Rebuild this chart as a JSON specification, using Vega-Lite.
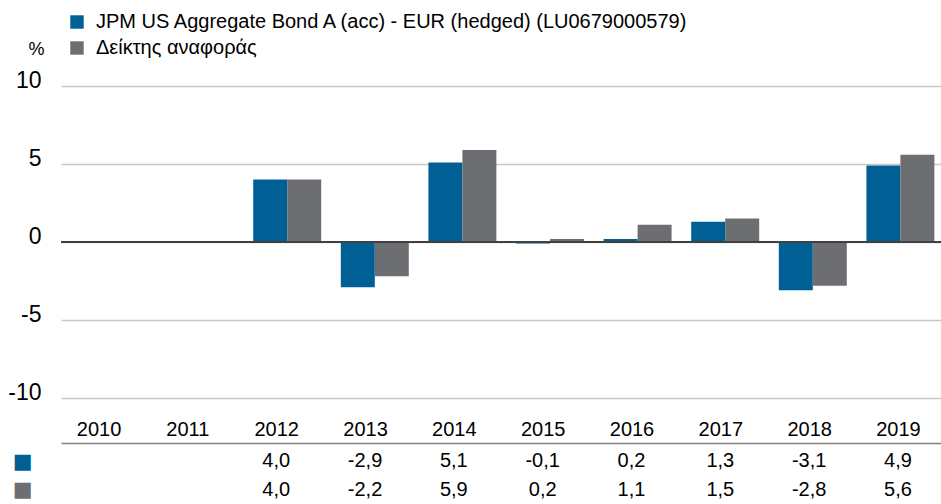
{
  "$schema": "https://vega.github.io/schema/vega-lite/v6.json",
  "padding": {"left": 7, "top": 12, "right": 0, "bottom": 0},
  "spacing": 45,
  "bounds": "flush",
  "config": {
    "font": "Liberation Sans",
    "view": {"stroke": null},
    "locale": {"number": {"decimal": ",", "thousands": ".", "grouping": [3], "currency": ["", " €"], "minus": "-"}}
  },
  "datasets": {
    "returns": [
      {"year": "2012", "series": "JPM US Aggregate Bond A (acc) - EUR (hedged) (LU0679000579)", "value": 4.0},
      {"year": "2013", "series": "JPM US Aggregate Bond A (acc) - EUR (hedged) (LU0679000579)", "value": -2.9},
      {"year": "2014", "series": "JPM US Aggregate Bond A (acc) - EUR (hedged) (LU0679000579)", "value": 5.1},
      {"year": "2015", "series": "JPM US Aggregate Bond A (acc) - EUR (hedged) (LU0679000579)", "value": -0.1},
      {"year": "2016", "series": "JPM US Aggregate Bond A (acc) - EUR (hedged) (LU0679000579)", "value": 0.2},
      {"year": "2017", "series": "JPM US Aggregate Bond A (acc) - EUR (hedged) (LU0679000579)", "value": 1.3},
      {"year": "2018", "series": "JPM US Aggregate Bond A (acc) - EUR (hedged) (LU0679000579)", "value": -3.1},
      {"year": "2019", "series": "JPM US Aggregate Bond A (acc) - EUR (hedged) (LU0679000579)", "value": 4.9},
      {"year": "2012", "series": "Δείκτης αναφοράς", "value": 4.0},
      {"year": "2013", "series": "Δείκτης αναφοράς", "value": -2.2},
      {"year": "2014", "series": "Δείκτης αναφοράς", "value": 5.9},
      {"year": "2015", "series": "Δείκτης αναφοράς", "value": 0.2},
      {"year": "2016", "series": "Δείκτης αναφοράς", "value": 1.1},
      {"year": "2017", "series": "Δείκτης αναφοράς", "value": 1.5},
      {"year": "2018", "series": "Δείκτης αναφοράς", "value": -2.8},
      {"year": "2019", "series": "Δείκτης αναφοράς", "value": 5.6}
    ]
  },
  "vconcat": [
    {
      "width": 880,
      "height": 312,
      "data": {"name": "returns"},
      "layer": [
        {
          "mark": {"type": "bar"},
          "encoding": {
            "x": {
              "field": "year", "type": "nominal",
              "scale": {"domain": ["2010","2011","2012","2013","2014","2015","2016","2017","2018","2019"], "paddingInner": 0.224, "paddingOuter": 0.135, "align": 0.72},
              "axis": null
            },
            "xOffset": {
              "field": "series", "type": "nominal",
              "scale": {"domain": ["JPM US Aggregate Bond A (acc) - EUR (hedged) (LU0679000579)", "Δείκτης αναφοράς"], "paddingInner": 0, "paddingOuter": 0}
            },
            "y": {
              "field": "value", "type": "quantitative",
              "scale": {"domain": [-10, 10], "nice": false},
              "axis": {
                "values": [-10, -5, 0, 5, 10],
                "grid": true, "gridColor": "#C8C8C8", "gridWidth": 1.5,
                "domain": false, "ticks": false,
                "labelFontSize": 23, "labelPadding": 20, "labelBaseline": "alphabetic", "labelOffset": 1, "labelColor": "black",
                "title": "%", "titleAngle": 0, "titleX": -25, "titleY": -37,
                "titleFontSize": 18, "titleFontWeight": "normal", "titleAlign": "center", "titleBaseline": "middle", "titleColor": "black"
              }
            },
            "color": {
              "field": "series", "type": "nominal",
              "scale": {"domain": ["JPM US Aggregate Bond A (acc) - EUR (hedged) (LU0679000579)", "Δείκτης αναφοράς"], "range": ["#005F94", "#6D6E71"]},
              "legend": {
                "orient": "none", "legendX": 6, "legendY": -74, "title": null,
                "symbolType": "square", "symbolSize": 180, "symbolStrokeWidth": 0, "symbolOpacity": 1,
                "labelFontSize": 20, "labelColor": "black", "rowPadding": 6, "labelOffset": 9, "padding": 0, "labelLimit": 800
              }
            }
          }
        },
        {
          "mark": {"type": "rule", "color": "#404040", "strokeWidth": 2},
          "encoding": {"y": {"datum": 0}}
        }
      ]
    },
    {
      "width": 880,
      "height": 61,
      "data": {"name": "returns"},
      "mark": {"type": "text", "fontSize": 20, "color": "black", "baseline": "middle"},
      "encoding": {
        "x": {
          "field": "year", "type": "nominal",
          "scale": {"type": "point", "domain": ["2010","2011","2012","2013","2014","2015","2016","2017","2018","2019"], "padding": 0.4534, "align": 0.466},
          "axis": {"orient": "top", "title": null, "ticks": false, "domain": true, "domainColor": "#808080", "domainWidth": 1.5, "labelFontSize": 20, "labelPadding": 4, "labelColor": "black", "labelAngle": 0, "grid": false}
        },
        "y": {
          "field": "series", "type": "nominal",
          "scale": {"type": "point", "domain": ["JPM US Aggregate Bond A (acc) - EUR (hedged) (LU0679000579)", "Δείκτης αναφοράς"], "padding": 0.57, "align": 0.569},
          "axis": {
            "title": null, "ticks": false, "domain": false, "grid": false,
            "labelExpr": "'■'", "labelFont": "DejaVu Sans", "labelFontSize": 21, "labelPadding": 29, "labelBaseline": "middle",
            "labelColor": {"expr": "indexof(datum.value, 'JPM') == 0 ? '#005F94' : '#6D6E71'"}
          }
        },
        "text": {"field": "value", "type": "quantitative", "format": ".1f"}
      }
    }
  ]
}
